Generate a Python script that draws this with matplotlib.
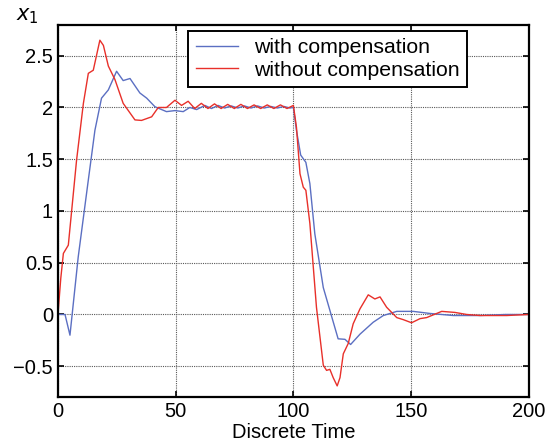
import numpy as np
import matplotlib.pyplot as plt

plt.rcParams['font.family'] = ['Liberation Sans', 'DejaVu Sans']

# with compensation (blue)
t_with = [0, 3, 5.1, 8.6, 12.9, 15.7, 18.5, 21.4, 24.9, 27.7, 30.6, 34.8, 37.7,
          41.2, 46.1, 49.7, 53.2, 56.0, 58.9, 62.4, 65.2, 68.0, 70.8, 73.6, 76.4,
          79.2, 82.0, 84.8, 87.6, 90.4, 93.2, 96.0, 98.5, 100.0,
          101.3, 103.1, 105.3, 107.0, 109.1, 112.7, 115.5, 119.0, 121.9, 124.3,
          128.3, 133.9, 138.2, 143.9, 150.9, 158.0, 167.9, 179.3, 190.0, 200.0]
x_with = [0, 0, -0.20, 0.555, 1.30, 1.78, 2.09, 2.17, 2.35, 2.26, 2.28, 2.14, 2.09,
          2.007, 1.96, 1.97, 1.96, 2.00, 1.98, 2.02, 1.99, 2.02, 1.995, 2.015, 1.995,
          2.015, 1.995, 2.015, 1.995, 2.01, 1.995, 2.01, 1.995, 2.0,
          1.78, 1.54, 1.47, 1.265, 0.78, 0.26, 0.04, -0.235, -0.24, -0.29,
          -0.19, -0.075, -0.01, 0.03, 0.03, 0.01, -0.01, -0.01, 0.0, 0.0]

# without compensation (red)
t_without = [0, 1.2, 2.3, 4.4, 7.9, 10.8, 12.9, 15.0, 17.8, 19.3, 21.4, 24.2, 27.7,
             32.7, 35.5, 39.8, 42.6, 46.1, 49.7, 52.5, 55.3, 58.1, 60.9, 63.7, 66.5,
             69.3, 72.1, 74.9, 77.7, 80.5, 83.3, 86.1, 88.9, 91.7, 94.5, 97.3, 100.0,
             101.3, 102.8, 104.2, 105.3, 107.0, 109.8, 112.7, 114.1, 115.5, 116.9,
             118.6, 119.8, 121.2, 123.3, 125.4, 128.3, 131.8, 134.6, 136.8, 139.6,
             143.9, 146.7, 150.2, 153.8, 156.6, 163.0, 168.6, 173.6, 179.3, 190.6, 200.0]
x_without = [0, 0.35, 0.59, 0.67, 1.49, 2.04, 2.33, 2.36, 2.65, 2.60, 2.40, 2.27, 2.04,
             1.88, 1.875, 1.91, 2.0, 2.0, 2.07, 2.02, 2.06, 1.99, 2.04, 1.99, 2.035,
             1.99, 2.03, 1.99, 2.03, 1.99, 2.025, 1.99, 2.025, 1.99, 2.025, 1.99, 2.02,
             1.81, 1.36, 1.23, 1.20, 0.88, 0.07, -0.49, -0.54, -0.53, -0.61,
             -0.69, -0.61, -0.38, -0.28, -0.09, 0.055, 0.19, 0.15, 0.17, 0.07,
             -0.03, -0.05, -0.08, -0.04, -0.03, 0.03, 0.02, 0.0, -0.01, -0.01, 0.0]

xticks = [0, 50, 100, 150, 200]
yticks = [-0.5, 0, 0.5, 1, 1.5, 2, 2.5]

fig = plt.figure(figsize=(5.52, 4.48), dpi=100)
ax = fig.add_axes([0.105, 0.1132, 0.853, 0.8317])

ax.plot(t_with, x_with, color='#5b6fc2', lw=1.0, label='with compensation')
ax.plot(t_without, x_without, color='#e8302a', lw=1.0, label='without compensation')

ax.set_xlim(0, 200)
ax.set_ylim(-0.8, 2.8)
ax.set_xticks(xticks)
ax.set_yticks(yticks)
ax.set_yticklabels(['\u22120.5', '0', '0.5', '1', '1.5', '2', '2.5'])
ax.tick_params(direction='in', top=True, right=True, labelsize=14.5, length=4, width=1.2)
ax.grid(True, color='0.35', lw=0.8, ls=(0, (1, 1)))
for s in ax.spines.values():
    s.set_linewidth(1.6)

ax.set_xlabel('Discrete Time', fontsize=14.5, labelpad=1)
fig.text(0.05, 1 - 16 / 448, r'$x_1$', fontsize=15, ha='center', va='center')

leg = ax.legend(loc='upper left', bbox_to_anchor=(0.341, 0.931),
                bbox_transform=fig.transFigure, fontsize=15.3, fancybox=False,
                edgecolor='black', framealpha=1, handlelength=2.0, handletextpad=0.75,
                borderaxespad=0, borderpad=0.35, labelspacing=0.15)
leg.get_frame().set_linewidth(1.4)

plt.savefig('out.png', dpi=100)
